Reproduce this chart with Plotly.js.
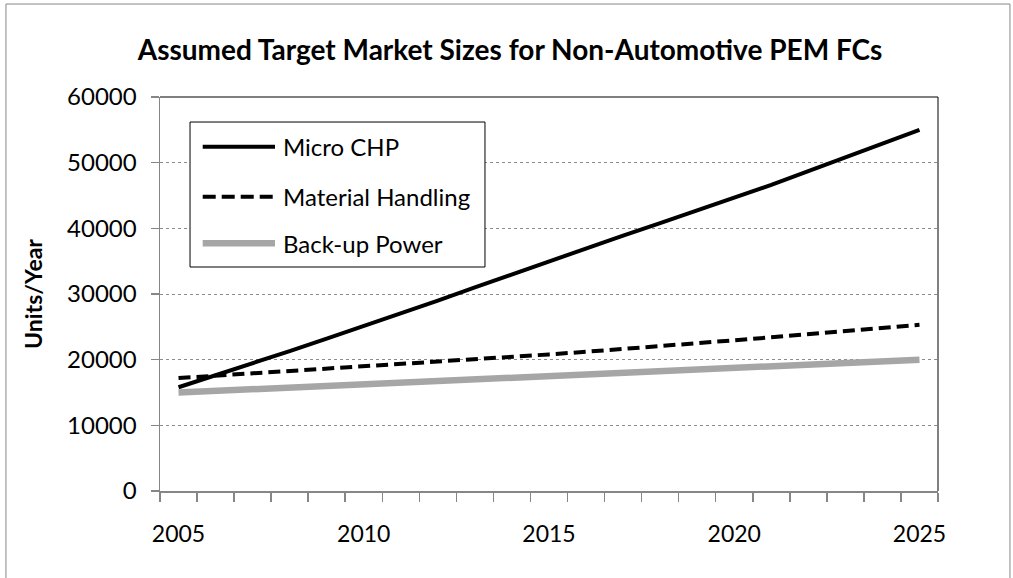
<!DOCTYPE html>
<html>
<head>
<meta charset="utf-8">
<script src="https://cdn.plot.ly/plotly-3.0.1.min.js"></script>
<style>html,body{margin:0;padding:0;background:#fff;}#chart{width:1013px;height:578px;}</style>
</head>
<body>
<div id="chart"></div>
<script>
// ---- data ----
const years = [2005,2006,2007,2008,2009,2010,2011,2012,2013,2014,2015,2016,2017,2018,2019,2020,2021,2022,2023,2024,2025];
const microCHP = [15800,17600,19500,21300,23200,25100,27000,29000,31000,33000,35000,37000,38900,40800,42700,44600,46600,48700,50800,52900,55000];
const materialHandling = [17200,17550,17900,18250,18600,18950,19300,19650,20000,20400,20800,21200,21600,22050,22500,22950,23400,23850,24300,24800,25300];
const backupPower = [15000,15240,15490,15740,15990,16240,16490,16740,16990,17240,17500,17750,18000,18250,18500,18750,19000,19250,19500,19750,20000];
const seriesNames = ['Micro CHP','Material Handling','Back-up Power'];
const xTickLabels = [2005,2010,2015,2020,2025];
const yTicks = [0,10000,20000,30000,40000,50000,60000];

const FONT = 'Lato, "Open Sans", sans-serif';
const GRAY_AXIS = '#868686';
const styles = [
  {color:'#000000', width:4, dash:'solid'},
  {color:'#000000', width:4, dash:'12px,6px'},
  {color:'#a6a6a6', width:6.5, dash:'solid'}
];
const seriesData = [microCHP, materialHandling, backupPower];

const traces = seriesData.map((ys,i)=>({
  type:'scatter', mode:'lines', x:years, y:ys, name:seriesNames[i],
  line:{color:styles[i].color, width:styles[i].width, dash:styles[i].dash},
  showlegend:false, hoverinfo:'x+y+name'
}));

// custom legend (paper coordinates)
const legX0 = 0.0386, legX1 = 0.4177, legY0 = 0.5685, legY1 = 0.9365;
const rowY = [0.8739, 0.7470, 0.6287];
const sampX0 = 0.0549, sampX1 = 0.1478, textX = 0.1554;
const shapes = [
  // outer chart border
  {type:'rect', xref:'paper', yref:'paper', x0:-0.198, x1:1.0925, y0:-0.23, y1:1.236,
   line:{color:GRAY_AXIS, width:1}, fillcolor:'rgba(0,0,0,0)', layer:'below'},
  // top & right border of plot area
  {type:'line', xref:'paper', yref:'paper', x0:0, x1:1, y0:1, y1:1, line:{color:'#000', width:1}},
  {type:'line', xref:'paper', yref:'paper', x0:1, x1:1, y0:0, y1:1, line:{color:'#000', width:1}},
  // legend box
  {type:'rect', xref:'paper', yref:'paper', x0:legX0, x1:legX1, y0:legY0, y1:legY1,
   line:{color:'#000', width:1}, fillcolor:'#ffffff', layer:'above'}
];
seriesNames.forEach((n,i)=>{
  shapes.push({type:'line', xref:'paper', yref:'paper', x0:sampX0, x1:sampX1, y0:rowY[i], y1:rowY[i],
    line:{color:styles[i].color, width:styles[i].width, dash:i===1?'13px,6px':'solid'}, layer:'above'});
});
const annotations = seriesNames.map((n,i)=>({
  xref:'paper', yref:'paper', x:textX, y:rowY[i], text:n, showarrow:false,
  xanchor:'left', yanchor:'middle', font:{family:FONT, size:24, color:'#000'}
}));

const layout = {
  width:1013, height:578,
  margin:{l:160, r:75, t:97, b:87, pad:0},
  paper_bgcolor:'#ffffff', plot_bgcolor:'#ffffff',
  font:{family:FONT, color:'#000'},
  title:{text:'<b>Assumed Target Market Sizes for Non-Automotive PEM FCs</b>',
    xref:'container', yref:'container', x:0.5035, y:0.9135, xanchor:'center', yanchor:'middle',
    font:{family:FONT, size:28, color:'#000'}},
  xaxis:{
    type:'linear', range:[2004.5, 2025.5], tickmode:'array', tickvals:xTickLabels,
    ticktext:xTickLabels.map(String), ticks:'', showgrid:false, zeroline:false,
    showline:true, linecolor:GRAY_AXIS, linewidth:1.5,
    tickfont:{family:FONT, size:23, color:'#000'}, ticklabelstandoff:22,
    minor:{ticks:'outside', tick0:2004.5, dtick:1, ticklen:9, tickcolor:GRAY_AXIS, tickwidth:1.5, showgrid:false}
  },
  yaxis:{
    range:[0,60000], tickmode:'array', tickvals:yTicks, ticktext:yTicks.map(String),
    ticks:'outside', ticklen:8, tickcolor:GRAY_AXIS, tickwidth:1.5,
    showline:true, linecolor:GRAY_AXIS, linewidth:1.5, zeroline:false,
    showgrid:true, gridcolor:'#8c8c8c', gridwidth:1, griddash:'dot',
    tickfont:{family:FONT, size:24, color:'#000'}, ticklabelstandoff:9,
    title:{text:'<b>Units/Year</b>', font:{family:FONT, size:23, color:'#000'}, standoff:18}
  },
  shapes:shapes, annotations:annotations
};

Plotly.newPlot('chart', traces, layout, {displayModeBar:false, staticPlot:true});
</script>
</body>
</html>
